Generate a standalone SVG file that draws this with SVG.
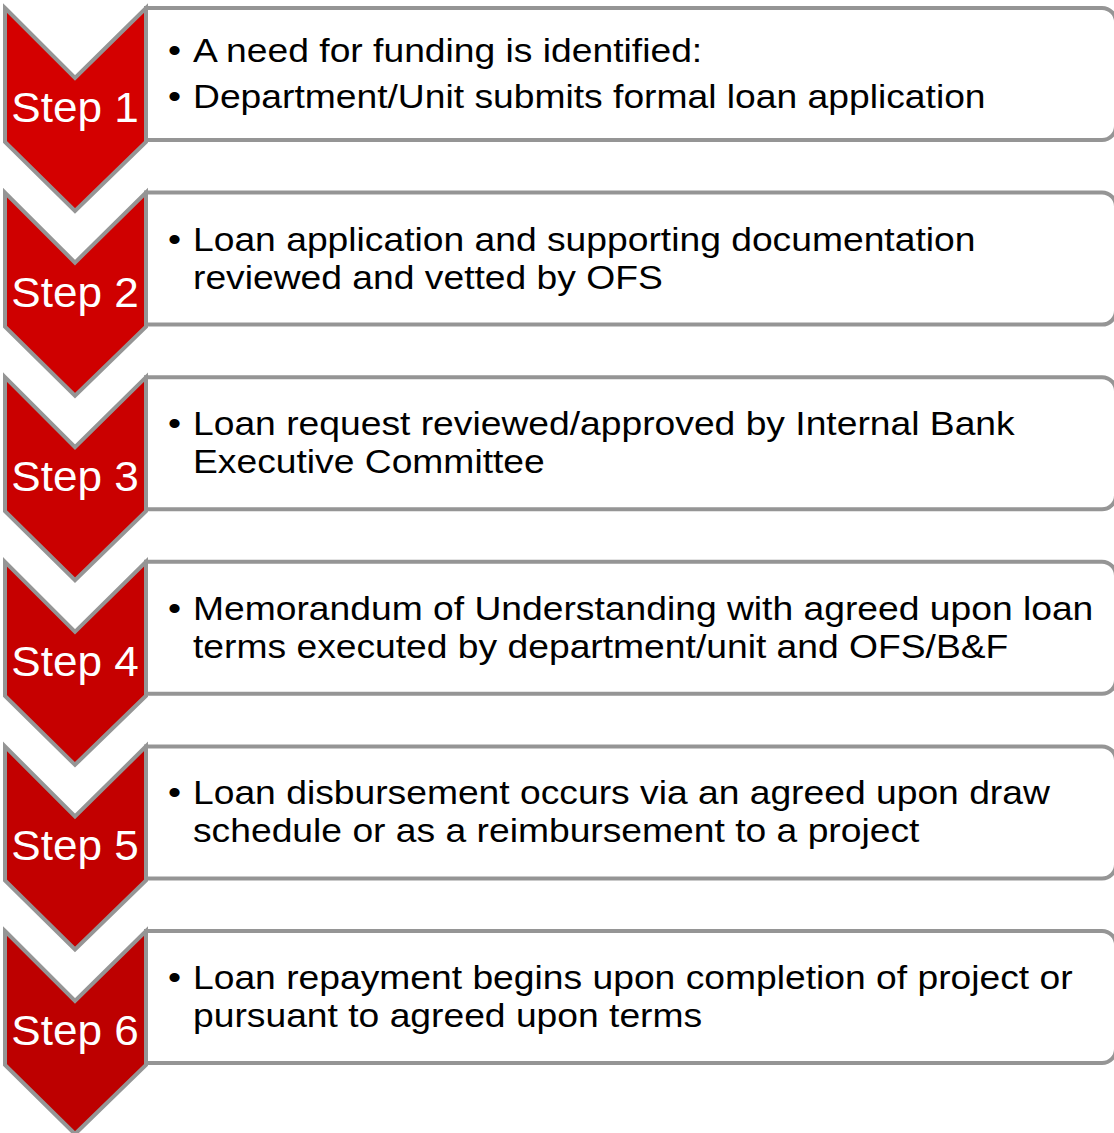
<svg xmlns="http://www.w3.org/2000/svg" width="1114" height="1133" viewBox="0 0 1114 1133">
  <style>
    .box { fill: #ffffff; stroke: #959595; stroke-width: 4; }
    .chev { stroke: #959595; stroke-width: 4; stroke-linejoin: miter; }
    .step { font-family: "Liberation Sans", Arial, sans-serif; font-size: 42px; fill: #ffffff; text-anchor: middle; }
    .txt { font-family: "Liberation Sans", Arial, sans-serif; font-size: 33.5px; fill: #000000; }
  </style>
  <defs>
    <!-- one process step: text box behind, chevron on top -->
    <path id="boxShape" d="M146,8 H1102 A14,14 0 0 1 1116,22 V126 A14,14 0 0 1 1102,140 H146 Z"/>
    <path id="chevShape" d="M5,8 L75,78 L146,8 L146,142 L75,211 L5,142 Z"/>
  </defs>

  <g id="step1">
    <use href="#boxShape" class="box"/>
    <use href="#chevShape" class="chev" fill="#d40000"/>
    <text class="step" transform="matrix(1.05 0 0 1 75 122)">Step 1</text>
    <text class="txt" transform="matrix(1.112 0 0 1 168 62)">•</text>
    <text class="txt" transform="matrix(1.112 0 0 1 193 62)">A need for funding is identified:</text>
    <text class="txt" transform="matrix(1.112 0 0 1 168 108)">•</text>
    <text class="txt" transform="matrix(1.112 0 0 1 193 108)">Department/Unit submits formal loan application</text>
  </g>

  <g id="step2" transform="translate(0,184.6)">
    <use href="#boxShape" class="box"/>
    <use href="#chevShape" class="chev" fill="#cf0000"/>
    <text class="step" transform="matrix(1.05 0 0 1 75 122)">Step 2</text>
    <text class="txt" transform="matrix(1.112 0 0 1 168 66)">•</text>
    <text class="txt" transform="matrix(1.112 0 0 1 193 66)">Loan application and supporting documentation</text>
    <text class="txt" transform="matrix(1.112 0 0 1 193 104)">reviewed and vetted by OFS</text>
  </g>

  <g id="step3" transform="translate(0,369.2)">
    <use href="#boxShape" class="box"/>
    <use href="#chevShape" class="chev" fill="#ca0000"/>
    <text class="step" transform="matrix(1.05 0 0 1 75 122)">Step 3</text>
    <text class="txt" transform="matrix(1.112 0 0 1 168 66)">•</text>
    <text class="txt" transform="matrix(1.112 0 0 1 193 66)">Loan request reviewed/approved by Internal Bank</text>
    <text class="txt" transform="matrix(1.112 0 0 1 193 104)">Executive Committee</text>
  </g>

  <g id="step4" transform="translate(0,553.8)">
    <use href="#boxShape" class="box"/>
    <use href="#chevShape" class="chev" fill="#c60000"/>
    <text class="step" transform="matrix(1.05 0 0 1 75 122)">Step 4</text>
    <text class="txt" transform="matrix(1.112 0 0 1 168 66)">•</text>
    <text class="txt" transform="matrix(1.112 0 0 1 193 66)">Memorandum of Understanding with agreed upon loan</text>
    <text class="txt" transform="matrix(1.112 0 0 1 193 104)">terms executed by department/unit and OFS/B&amp;F</text>
  </g>

  <g id="step5" transform="translate(0,738.4)">
    <use href="#boxShape" class="box"/>
    <use href="#chevShape" class="chev" fill="#c20000"/>
    <text class="step" transform="matrix(1.05 0 0 1 75 122)">Step 5</text>
    <text class="txt" transform="matrix(1.112 0 0 1 168 66)">•</text>
    <text class="txt" transform="matrix(1.112 0 0 1 193 66)">Loan disbursement occurs via an agreed upon draw</text>
    <text class="txt" transform="matrix(1.112 0 0 1 193 104)">schedule or as a reimbursement to a project</text>
  </g>

  <g id="step6" transform="translate(0,923)">
    <use href="#boxShape" class="box"/>
    <use href="#chevShape" class="chev" fill="#bd0000"/>
    <text class="step" transform="matrix(1.05 0 0 1 75 122)">Step 6</text>
    <text class="txt" transform="matrix(1.112 0 0 1 168 66)">•</text>
    <text class="txt" transform="matrix(1.112 0 0 1 193 66)">Loan repayment begins upon completion of project or</text>
    <text class="txt" transform="matrix(1.112 0 0 1 193 104)">pursuant to agreed upon terms</text>
  </g>
</svg>
